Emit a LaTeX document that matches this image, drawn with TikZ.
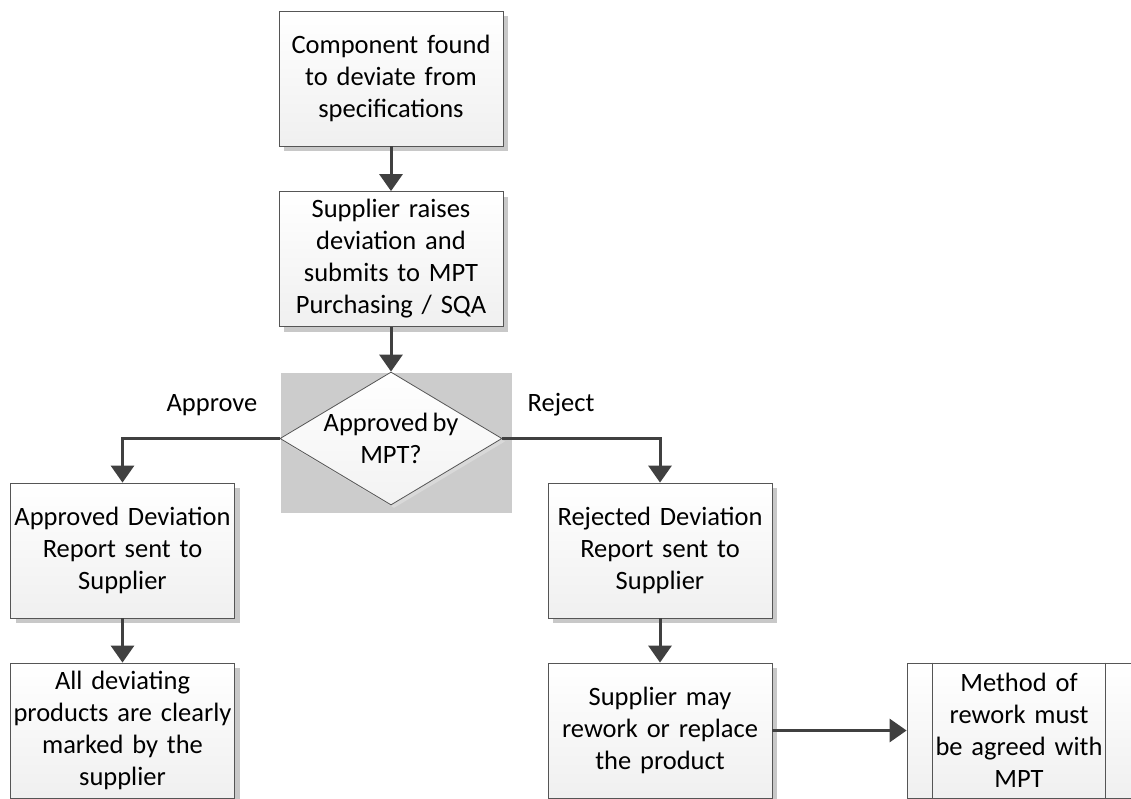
\documentclass[tikz,border=0pt]{standalone}
\usepackage{fontspec}
\setmainfont{Carlito}[WordSpace=0.7]
\usetikzlibrary{shapes.geometric,arrows.meta,shadows,calc}
\definecolor{linec}{HTML}{404040}
\definecolor{borderc}{HTML}{555555}
\definecolor{shadowc}{HTML}{C8C8C8}
\begin{document}
\begin{tikzpicture}[x=1pt,y=-1pt,
  txt/.style={font=\fontsize{26.5}{32}\selectfont, align=center},
  box/.style={txt, rectangle, draw=borderc, line width=0.8pt,
    top color=white, bottom color=gray!12,
    minimum width=224pt, minimum height=135pt, inner sep=0pt, text width=224pt},
  shbox/.style={box, general shadow={fill=shadowc, shadow xshift=5pt, shadow yshift=-5pt}},
  arr/.style={draw=linec, line width=3pt, -{Triangle[width=23pt,length=17pt]}},
  conn/.style={draw=linec, line width=3pt}]
\useasboundingbox (0,0) rectangle (1131,798);
% grey background of the decision
\fill[gray!40] (281,373) rectangle (512,513);
\node[shbox] (b1) at (391,78.5) {Component found\\to deviate from\\specifications};
\node[shbox] (b2) at (391,259) {Supplier raises\\deviation and\\submits to MPT\\Purchasing / SQA};
\node[diamond, draw=borderc, line width=0.8pt, top color=white, bottom color=gray!10,
  minimum width=222pt, minimum height=133pt, inner sep=0pt,
  general shadow={fill=gray!30, shadow xshift=3pt, shadow yshift=-3pt},
  label={[txt]center:Approved by\\MPT?}] (dia) at (391,438.5) {};
\node[shbox] (b3) at (122.5,550.5) {Approved Deviation\\Report sent to\\Supplier};
\node[shbox] (b4) at (122.5,730.5) {All deviating\\products are clearly\\marked by the\\supplier};
\node[shbox] (b5) at (660,550.5) {Rejected Deviation\\Report sent to\\Supplier};
\node[shbox] (b6) at (660,730.5) {Supplier may\\rework or replace\\the product};
\node[box] (b7) at (1019,730.5) {Method of\\rework must\\be agreed with\\MPT};
\draw[draw=borderc, line width=0.8pt] ($(b7.north west)+(26,0)$) -- ($(b7.south west)+(26,0)$);
\draw[draw=borderc, line width=0.8pt] ($(b7.north east)+(-26,0)$) -- ($(b7.south east)+(-26,0)$);
\node[txt] (lapp) at (212,405) {Approve};
\node[txt] (lrej) at (561,405) {Reject};
\draw[arr] (b1.south) -- (b2.north);
\draw[arr] (b2.south) -- (dia.north);
\draw[arr] (dia.west) -| (b3.north);
\draw[arr] (dia.east) -| (b5.north);
\draw[arr] (b3.south) -- (b4.north);
\draw[arr] (b5.south) -- (b6.north);
\draw[arr] (b6.east) -- (b7.west);
\end{tikzpicture}
\end{document}
